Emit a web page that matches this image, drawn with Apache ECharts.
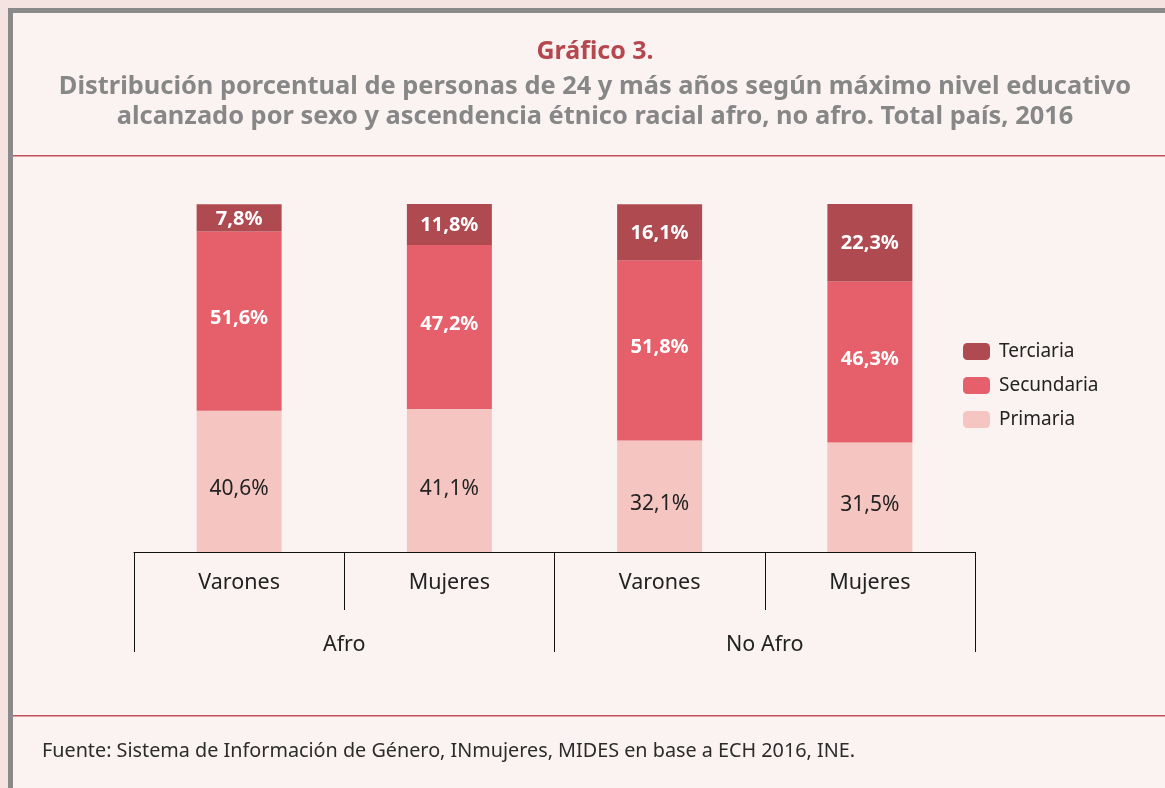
<!DOCTYPE html>
<html>
<head>
<meta charset="utf-8">
<script src="https://cdn.jsdelivr.net/npm/echarts@6/dist/echarts.min.js"></script>
<style>
  html, body { margin: 0; padding: 0; background: #f4e3e1; }
  #chart { width: 1165px; height: 788px; }
</style>
</head>
<body>
<div id="chart"></div>
<script>
// categorías y datos (porcentajes)
const grupos = ['Varones', 'Mujeres', 'Varones', 'Mujeres'];
const ascendencia = ['Afro', 'No Afro'];
const primaria = [40.6, 41.1, 32.1, 31.5];
const secundaria = [51.6, 47.2, 51.8, 46.3];
const terciaria = [7.8, 11.8, 16.1, 22.3];

const FONT = 'Noto Sans';
const fmt = (p) => p.value.toFixed(1).replace('.', ',') + '%';

const chart = echarts.init(document.getElementById('chart'));
chart.setOption({
  backgroundColor: '#f4e3e1',
  textStyle: { fontFamily: FONT },
  graphic: [
    { type: 'rect', shape: { x: 8, y: 8, width: 1160, height: 785 }, style: { fill: '#8a8a8a' }, silent: true, z: -10 },
    { type: 'rect', shape: { x: 13, y: 13, width: 1160, height: 780 }, style: { fill: '#fbf3f2' }, silent: true, z: -9 },
    { type: 'rect', shape: { x: 13, y: 155, width: 1160, height: 1.6 }, style: { fill: '#c4505b' }, silent: true },
    { type: 'rect', shape: { x: 13, y: 715, width: 1160, height: 1.6 }, style: { fill: '#c4505b' }, silent: true },
    {
      type: 'text', left: 42, top: 741,
      style: { text: 'Fuente: Sistema de Información de Género, INmujeres, MIDES en base a ECH 2016, INE.', font: '19.8px "Noto Sans"', fill: '#2b2b2b' }
    }
  ],
  title: {
    left: 595, textAlign: 'center', top: 39, padding: 0, itemGap: 8,
    text: 'Gráfico 3.',
    textStyle: { color: '#b5474f', fontSize: 25, fontWeight: 'bold', fontFamily: FONT },
    subtext: 'Distribución porcentual de personas de 24 y más años según máximo nivel educativo\nalcanzado por sexo y ascendencia étnico racial afro, no afro. Total país, 2016',
    subtextStyle: { color: '#878787', fontSize: 25.4, fontWeight: 'bold', lineHeight: 30, align: 'center', fontFamily: FONT }
  },
  legend: {
    orient: 'vertical', left: 963, top: 342, padding: 0,
    itemWidth: 27, itemHeight: 17, itemGap: 15,
    data: ['Terciaria', 'Secundaria', 'Primaria'],
    textStyle: { color: '#222', fontSize: 19, fontFamily: FONT, padding: [0, 0, 0, 4] }
  },
  grid: { left: 134, right: 190, top: 204, bottom: 236 },
  xAxis: [
    {
      type: 'category', data: grupos, position: 'bottom',
      axisLine: { lineStyle: { color: '#111', width: 1 } },
      axisTick: { show: true, length: 58, lineStyle: { color: '#111' } },
      axisLabel: { color: '#222', fontSize: 21.5, margin: 20, fontFamily: FONT }
    },
    {
      type: 'category', data: ascendencia, position: 'bottom',
      axisLine: { show: false },
      axisTick: { show: true, length: 100, lineStyle: { color: '#111' } },
      axisLabel: { color: '#222', fontSize: 21.5, margin: 82, fontFamily: FONT }
    }
  ],
  yAxis: { type: 'value', min: 0, max: 100.1, show: false },
  series: [
    {
      name: 'Primaria', type: 'bar', stack: 'total', data: primaria, barWidth: 85,
      itemStyle: { color: '#f5c6c1' },
      label: { show: true, position: 'inside', formatter: fmt, color: '#222', fontSize: 21, offset: [0, 8] }
    },
    {
      name: 'Secundaria', type: 'bar', stack: 'total', data: secundaria, barWidth: 85,
      itemStyle: { color: '#e5606a' },
      label: { show: true, position: 'inside', formatter: fmt, color: '#fff', fontSize: 20, fontWeight: 'bold', offset: [0, -3] }
    },
    {
      name: 'Terciaria', type: 'bar', stack: 'total', data: terciaria, barWidth: 85,
      itemStyle: { color: '#ae4a50' },
      label: { show: true, position: 'inside', formatter: fmt, color: '#fff', fontSize: 20, fontWeight: 'bold', offset: [0, 1] }
    }
  ]
});
</script>
</body>
</html>
